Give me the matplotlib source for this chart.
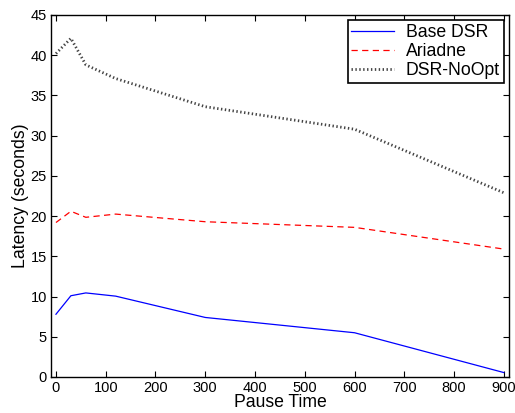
import matplotlib
matplotlib.use("Agg")
import matplotlib.pyplot as plt

plt.rcParams["font.family"] = ["Liberation Sans", "DejaVu Sans"]

# data
pause_time = [0, 30, 60, 120, 300, 600, 900]
base_dsr = [7.8, 10.1, 10.45, 10.05, 7.4, 5.5, 0.55]
ariadne = [19.2, 20.6, 19.85, 20.25, 19.3, 18.6, 15.9]
dsr_noopt = [40.2, 42.1, 38.8, 37.1, 33.6, 30.8, 22.9]

x_ticks = [0, 100, 200, 300, 400, 500, 600, 700, 800, 900]
y_ticks = [0, 5, 10, 15, 20, 25, 30, 35, 40, 45]

fig = plt.figure(figsize=(5.15, 4.13), dpi=100)
ax = fig.add_axes([0.099, 0.0872, 0.889, 0.8765])

ax.plot(pause_time, base_dsr, color="#0000ff", lw=0.9, label="Base DSR")
ax.plot(pause_time, ariadne, color="#ff0000", lw=0.9, ls=(0, (5, 3.5)), label="Ariadne")
ax.plot(pause_time, dsr_noopt, color="#444444", lw=2.0, ls=(0, (0.5, 0.9)), label="DSR-NoOpt")

ax.set_xlim(-10, 910)
ax.set_ylim(0, 45)
ax.set_xticks(x_ticks)
ax.set_yticks(y_ticks)
ax.tick_params(direction="in", top=True, right=True, length=4, width=0.8,
               labelsize=10.5, pad=3)
for s in ax.spines.values():
    s.set_linewidth(1.0)

ax.set_xlabel("Pause Time", fontsize=12.7, labelpad=-1)
ax.set_ylabel("Latency (seconds)", fontsize=12.7, labelpad=1)

leg = ax.legend(loc="upper right", fontsize=12.7, fancybox=False, framealpha=1,
                edgecolor="black", borderpad=0.2, labelspacing=0.12,
                handlelength=2.4, handletextpad=0.7, borderaxespad=0.3)
leg.get_frame().set_linewidth(1.2)

fig.savefig("out.png", dpi=100)
